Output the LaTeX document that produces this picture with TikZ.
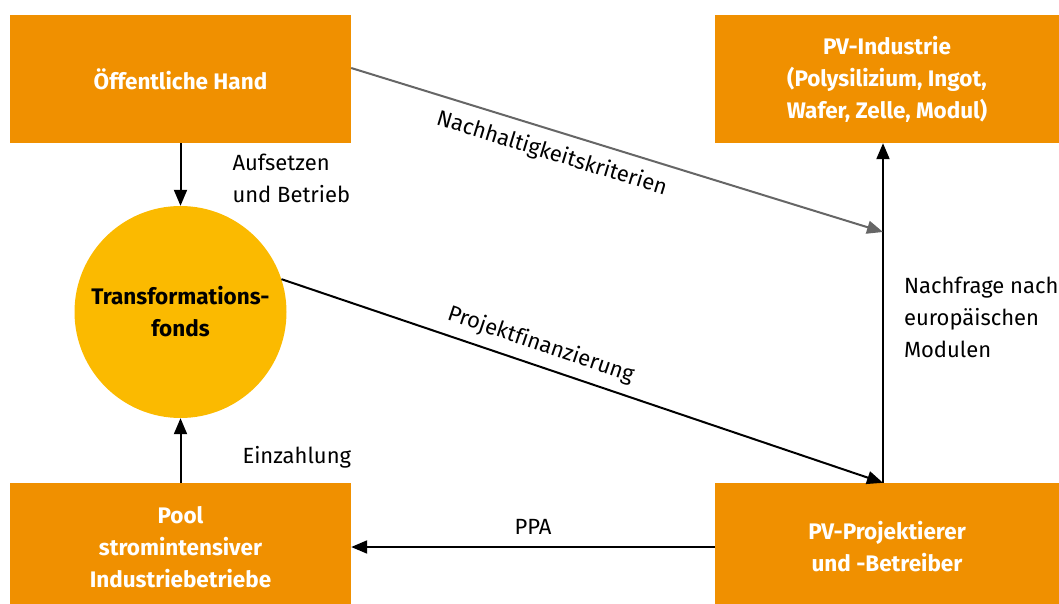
\documentclass[tikz,border=0pt]{standalone}
\usepackage{fontspec}
\setmainfont[Ligatures=NoCommon]{Fira Sans}
\usepackage{xcolor}
\usetikzlibrary{arrows.meta}
\usetikzlibrary{positioning}
\definecolor{boxorange}{RGB}{240,144,0}
\definecolor{fondsgelb}{RGB}{251,186,0}
\definecolor{pfeilgrau}{RGB}{102,102,102}
\tikzset{>={Triangle[length=16pt,width=13pt]}}
\tikzset{
  akteur/.style={fill=boxorange,text=white,font=\fontsize{22.5}{32}\selectfont\bfseries,align=center,
    minimum width=341pt,minimum height=128pt,inner sep=0pt},
  fluss/.style={->,line width=2pt},
  beschr/.style={font=\fontsize{22}{32}\selectfont,align=left,inner sep=0pt},
  schraeg/.style={font=\fontsize{22}{32}\selectfont,sloped,inner sep=0pt}
}

\begin{document}
\begin{tikzpicture}[x=1pt,y=-1pt]
                \useasboundingbox (0,0) rectangle (1059,604);
                \node[akteur] (hand) at (180.5,79) {Öffentliche Hand};
                \node[akteur,minimum width=344pt] (pvind) at (887,79) {PV-Industrie\\(Polysilizium, Ingot,\\Wafer, Zelle, Modul)};
                \node[circle,fill=fondsgelb,minimum size=212pt,inner sep=0pt,font=\fontsize{22.5}{32}\selectfont\bfseries,align=center] (fonds) at (180.5,312) {Transformations-\\fonds};
                \node[akteur] (pool) at (180.5,547) {Pool\\stromintensiver\\Industriebetriebe};
                \node[akteur,minimum width=344pt] (pvproj) at (887,547) {PV-Projektierer\\und -Betreiber};
                \coordinate (oben) at (pvind.south -| 883,0);
                \coordinate (unten) at (pvproj.north -| 883,0);
                \coordinate (knick) at (883,232);
                \path[fluss]
                  (hand) edge node [beschr,right=51pt,yshift=-4pt] {Aufsetzen\\und Betrieb} (fonds)
                  (pool) edge node [beschr,right=61pt,yshift=-7pt] {Einzahlung} (fonds)
                  (pvproj) edge node [beschr,above=12pt] {PPA} (pool)
                  (fonds.18) edge node [schraeg,above=9pt,pos=0.42] {Projektfinanzierung} (unten)
                  (unten) edge node [beschr,right=20pt,yshift=-4pt] {Nachfrage nach\\europäischen\\Modulen} (oben);
                \draw[fluss,pfeilgrau] (hand.east |- 0,68) -- node [schraeg,text=black,below=11pt,pos=0.39] {Nachhaltigkeitskriterien} (knick);
            \end{tikzpicture}
\end{document}
